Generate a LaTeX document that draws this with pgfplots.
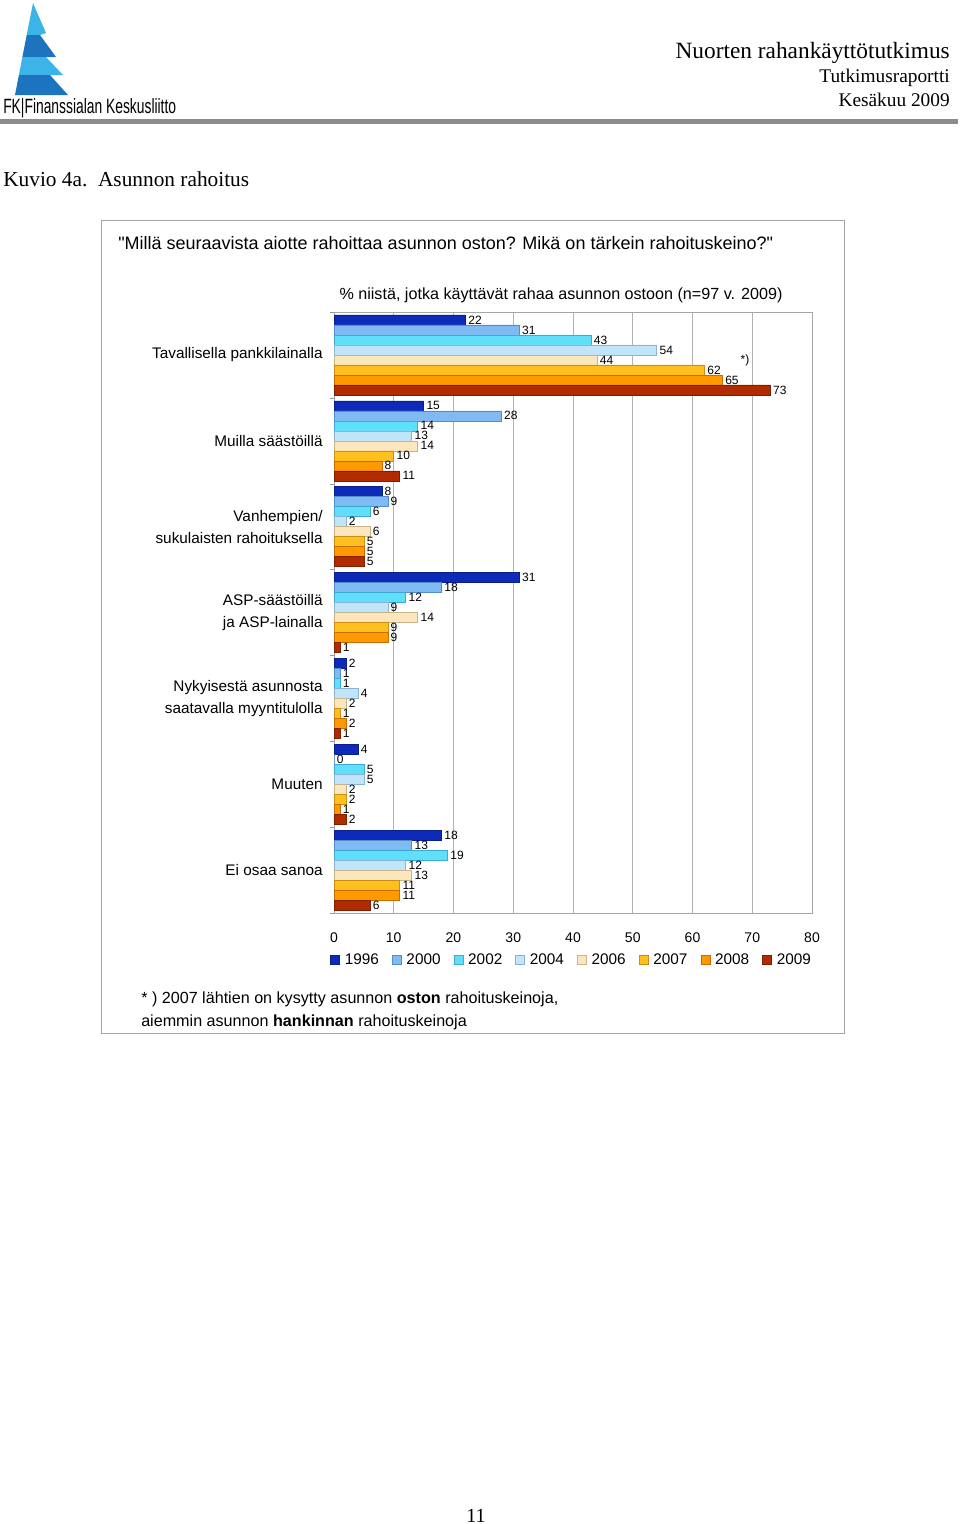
\documentclass[border=0pt]{standalone}
\usepackage{pgfplots}
\pgfplotsset{compat=1.18}
\usepackage{fontspec}
\setmainfont{Liberation Sans}
\newfontfamily\qfont{Liberation Sans}[Ligatures=TeXOff]
\newfontfamily\serif{Liberation Serif}
\definecolor{c1996}{RGB}{13,43,184}
\definecolor{d1996}{RGB}{10,30,140}
\definecolor{c2000}{RGB}{128,186,242}
\definecolor{d2000}{RGB}{85,140,200}
\definecolor{c2002}{RGB}{95,223,250}
\definecolor{d2002}{RGB}{60,170,210}
\definecolor{c2004}{RGB}{192,228,250}
\definecolor{d2004}{RGB}{140,180,210}
\definecolor{c2006}{RGB}{252,230,190}
\definecolor{d2006}{RGB}{200,180,140}
\definecolor{c2007}{RGB}{255,191,31}
\definecolor{d2007}{RGB}{205,140,20}
\definecolor{c2008}{RGB}{255,153,0}
\definecolor{d2008}{RGB}{200,110,0}
\definecolor{c2009}{RGB}{176,44,0}
\definecolor{d2009}{RGB}{130,30,0}
\definecolor{logolight}{RGB}{60,180,232}
\definecolor{logodark}{RGB}{28,115,190}
\begin{document}
\begin{tikzpicture}
\begin{scope}[x=0.75pt,y=-0.75pt]
\fill[white] (0,0) rectangle (960,1524);
% logo
\fill[logolight] (33,3) -- (46,33) -- (40,35) -- (26.7,35) -- cycle;
\fill[logodark] (26.7,35) -- (40,35) -- (56,57) -- (22.4,57) -- cycle;
\fill[logolight] (22.4,57) -- (46,57) -- (63,75) -- (18.9,75) -- cycle;
\fill[logodark] (18.9,75) -- (50,75) -- (68,95) -- (15,95) -- cycle;
\node[anchor=west,inner sep=0pt] at (3,108) {\scalebox{0.67}[1]{\fontsize{15.5}{18}\selectfont FK|Finanssialan Keskusliitto}};
% header
\node[anchor=east,inner sep=0pt] at (950,53) {\serif\fontsize{17.5}{20}\selectfont Nuorten rahankäyttötutkimus};
\node[anchor=east,inner sep=0pt] at (950,78) {\serif\fontsize{14.5}{17}\selectfont Tutkimusraportti};
\node[anchor=east,inner sep=0pt] at (950,100) {\serif\fontsize{14.5}{17}\selectfont Kesäkuu 2009};
\fill[black!45] (0,119) rectangle (958,124);
\node[anchor=west,inner sep=0pt] at (3,179) {\serif\fontsize{16}{19}\selectfont Kuvio 4a.\ \ Asunnon rahoitus};
% frame
\draw[black!35,line width=0.75pt] (101,220) rectangle (844,1033);
\node[anchor=west,inner sep=0pt] at (118,243) {\qfont\fontsize{13.5}{16}\selectfont "Millä seuraavista aiotte rahoittaa asunnon oston? Mikä on tärkein rahoituskeino?"};
\node[inner sep=0pt] at (561,295) {\fontsize{12.1}{14}\selectfont \% niistä, jotka käyttävät rahaa asunnon ostoon (n=97 v. 2009)};
\node[inner sep=0pt] at (745,360) {\fontsize{9}{11}\selectfont *)};
\node[anchor=west,inner sep=0pt] at (141,999) {\fontsize{12.1}{14}\selectfont * ) 2007 lähtien on kysytty asunnon \textbf{oston} rahoituskeinoja,};
\node[anchor=west,inner sep=0pt] at (141,1022) {\fontsize{12.1}{14}\selectfont aiemmin asunnon \textbf{hankinnan} rahoituskeinoja};
\node[inner sep=0pt] at (476,1516) {\serif\fontsize{15}{18}\selectfont 11};
\end{scope}
\begin{axis}[
  at={(250.5pt,-684.75pt)}, anchor=south west,
  scale only axis, width=358.5pt, height=450.75pt,
  xmin=0, xmax=80, ymin=-0.5, ymax=6.5, y dir=reverse,
  xbar, bar width=7.5pt,
  xtick={0,10,...,80},
  ytick={0,...,6},
  minor ytick={-0.5,0.5,...,6.5},
  tick pos=left,
  yticklabels={Tavallisella pankkilainalla, Muilla säästöillä, {Vanhempien/\\sukulaisten rahoituksella}, {ASP-säästöillä\\ja ASP-lainalla}, {Nykyisestä asunnosta\\saatavalla myyntitulolla}, Muuten, Ei osaa sanoa},
  yticklabel style={align=right, font=\fontsize{11.5}{16.5}\selectfont, xshift=-5pt},
  xticklabel style={font=\fontsize{10.5}{12}\selectfont, yshift=-11pt},
  tick align=outside, major tick length=0pt, minor tick length=3pt,
  minor tick style={black!40},
  /pgf/number format/assume math mode=true,
  xmajorgrids, grid style={black!30},
  axis line style={black!35},
  nodes near coords,
  every node near coord/.append style={anchor=west, font=\fontsize{9}{10}\selectfont, inner sep=2pt},
  legend columns=8,
  legend image code/.code={\draw[#1] (0pt,-3.4pt) rectangle (6.8pt,3.4pt);},
  legend style={at={(axis description cs:-0.0084,-0.0782)}, anchor=west, draw=none, fill=none, inner sep=0pt,
    font=\fontsize{11.5}{13}\selectfont,
    /tikz/every odd column/.append style={column sep=1.7pt},
    /tikz/every even column/.append style={column sep=7.8pt}},
]
\addplot[fill=c1996, draw=d1996, bar shift=26.25pt] coordinates {(22,0) (15,1) (8,2) (31,3) (2,4) (4,5) (18,6)};
\addplot[fill=c2000, draw=d2000, bar shift=18.75pt] coordinates {(31,0) (28,1) (9,2) (18,3) (1,4) (0,5) (13,6)};
\addplot[fill=c2002, draw=d2002, bar shift=11.25pt] coordinates {(43,0) (14,1) (6,2) (12,3) (1,4) (5,5) (19,6)};
\addplot[fill=c2004, draw=d2004, bar shift=3.75pt] coordinates {(54,0) (13,1) (2,2) (9,3) (4,4) (5,5) (12,6)};
\addplot[fill=c2006, draw=d2006, bar shift=-3.75pt] coordinates {(44,0) (14,1) (6,2) (14,3) (2,4) (2,5) (13,6)};
\addplot[fill=c2007, draw=d2007, bar shift=-11.25pt] coordinates {(62,0) (10,1) (5,2) (9,3) (1,4) (2,5) (11,6)};
\addplot[fill=c2008, draw=d2008, bar shift=-18.75pt] coordinates {(65,0) (8,1) (5,2) (9,3) (2,4) (1,5) (11,6)};
\addplot[fill=c2009, draw=d2009, bar shift=-26.25pt] coordinates {(73,0) (11,1) (5,2) (1,3) (1,4) (2,5) (6,6)};
\legend{1996,2000,2002,2004,2006,2007,2008,2009}
\end{axis}
\end{tikzpicture}
\end{document}
